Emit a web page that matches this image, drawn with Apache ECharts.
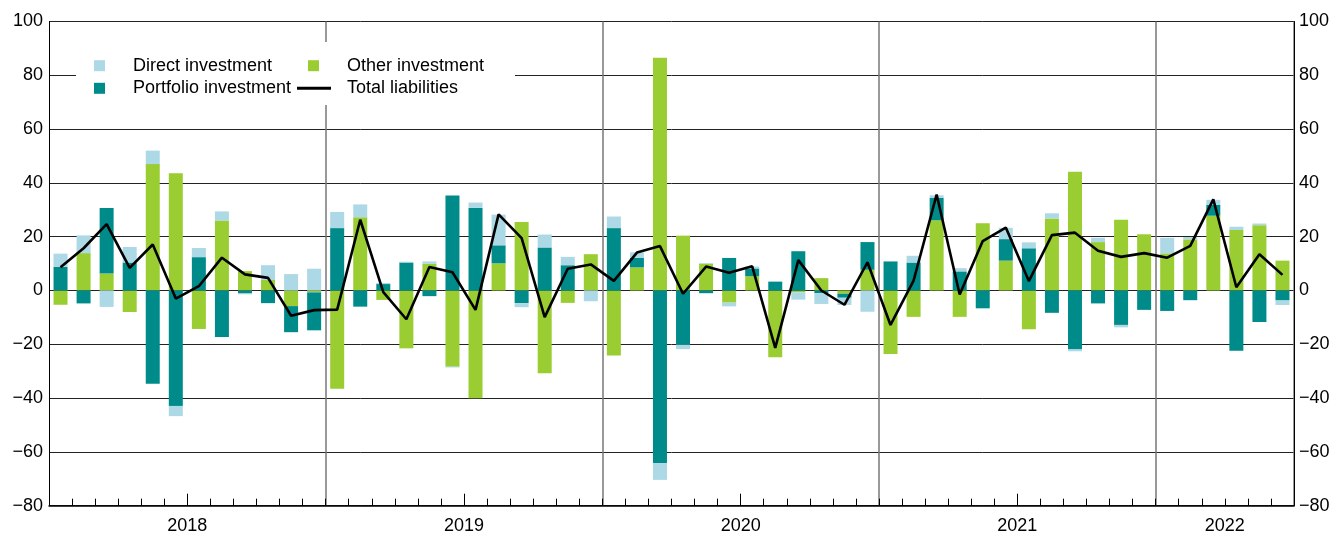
<!DOCTYPE html>
<html>
<head>
<meta charset="utf-8">
<script src="https://cdn.jsdelivr.net/npm/echarts@6/dist/echarts.min.js"></script>
<style>
  html, body { margin: 0; padding: 0; background: #fff; }
  #chart { width: 1336px; height: 536px; }
</style>
</head>
<body>
<div id="chart"></div>
<script>
// 月份 (2018-01 ~ 2022-06)
var years = ['2018', '2019', '2020', '2021', '2022'];
var monthsPerYear = [12, 12, 12, 12, 6];
var months = [];
years.forEach(function (y, i) {
    for (var m = 1; m <= monthsPerYear[i]; m++) {
        months.push(y + '-' + (m < 10 ? '0' + m : m));
    }
});

var directInv = [
    4.9, 6.6, -6.1, 5.8, 5.0, -3.8, 3.4, 3.4, -0.3, 5.5, 6.1, 8.1,
    6.0, 4.8, 0.4, 0.3, 0.9, -0.3, 2.0, 11.4, -1.5, 4.8, 3.1, -4.0,
    4.3, 2.1, -6.2, -1.6, 0.3, -1.4, 0.7, 0, -2.7, -4.0, -2.7, -7.9,
    0, 2.5, 1.0, 1.2, -0.4, 4.2, 2.2, 1.9, -0.7, 1.6, -0.9, 0,
    5.8, 0.9, 1.9, 1.2, 0.6, -1.7
];
var portfolioInv = [
    8.8, -4.8, 24.4, 10.4, -34.7, -42.9, 12.4, -17.3, -1.1, -4.7, -9.7, -14.1,
    23.2, -6.0, 2.4, 10.4, -2.1, 35.3, 30.7, 6.7, -4.7, 16.0, 9.4, 0,
    23.2, 3.5, -64.2, -20.2, -1.0, 12.1, 2.9, 3.3, 14.6, -1.0, -1.5, 10.3,
    10.8, 10.4, 8.3, 7.1, -6.5, 8.0, 15.7, -8.3, -21.9, -4.8, -12.8, -7.2,
    -7.6, -3.6, 4.0, -22.4, -11.7, -3.7
];
var otherInv = [
    -5.3, 13.9, 6.3, -8.0, 47.0, 43.6, -14.3, 26.0, 7.2, 3.9, -5.8, -0.7,
    -36.5, 27.2, -3.5, -21.5, 9.9, -28.3, -40.1, 10.1, 25.5, -30.8, -4.6, 13.5,
    -24.2, 8.6, 86.5, 20.4, 9.9, -4.5, 5.3, -24.8, -0.7, 4.6, -1.2, 7.7,
    -23.6, -9.8, 26.1, -9.8, 25.0, 11.1, -14.4, 26.8, 44.1, 18.0, 26.3, 20.9,
    13.8, 19.0, 27.8, 22.5, 24.3, 11.1
];
var totalLiab = [
    8.6, 15.7, 24.7, 8.4, 17.1, -3.0, 1.6, 12.2, 6.0, 4.7, -9.4, -7.3,
    -7.1, 26.3, -0.6, -10.7, 8.7, 6.8, -7.2, 28.3, 19.5, -9.9, 8.1, 9.7,
    3.6, 14.1, 16.5, -1.2, 8.9, 6.6, 9.0, -21.3, 11.3, 0.0, -5.3, 10.5,
    -12.8, 3.7, 35.7, -1.5, 18.4, 23.4, 3.5, 20.6, 21.5, 14.8, 12.5, 13.9,
    12.2, 16.6, 33.9, 1.2, 13.5, 5.8
];

// 年份标签放在每年的中间
var yearCenter = {};
var start = 0;
years.forEach(function (y, i) {
    yearCenter[start + monthsPerYear[i] / 2] = y;
    start += monthsPerYear[i];
});

var FONT = 'Liberation Sans, Arial, sans-serif';
var minus = function (v) { return String(v).replace('-', '\u2212'); };

(function () {
    var mycharts = echarts.init(document.getElementById('chart'));
    var legendText = { fontSize: 18, color: '#000', fontFamily: FONT };
    var option = {
        animation: false,
        color: ['#9ACD32', '#008B8B', '#ADD8E6', '#000'],
        grid: { left: 49, right: 42, top: 21.5, bottom: 30.3 },
        legend: [
            {
                data: ['Direct investment', 'Portfolio investment'],
                orient: 'vertical', left: 94, top: 56.7, padding: 0,
                itemWidth: 11, itemHeight: 11, itemGap: 4.6, icon: 'rect',
                textStyle: Object.assign({ padding: [0, 0, 0, 23] }, legendText)
            },
            {
                data: ['Other investment'],
                left: 308, top: 56.7, padding: 0,
                itemWidth: 11, itemHeight: 11, icon: 'rect',
                textStyle: Object.assign({ padding: [0, 0, 0, 23] }, legendText)
            },
            {
                data: ['Total liabilities'],
                left: 297, top: 79.3, padding: 0,
                itemWidth: 34, itemHeight: 3, icon: 'rect',
                textStyle: Object.assign({ padding: [0, 0, 0, 11] }, legendText)
            }
        ],
        // 图例后面的白底
        graphic: [{
            type: 'rect', left: 76, top: 42, z: 3,
            shape: { width: 439, height: 63 },
            style: { fill: '#fff' }
        }],
        xAxis: [
            {
                // 月份刻度 + 年份分隔线
                type: 'category', data: months, position: 'bottom',
                axisLine: { show: true, onZero: false, lineStyle: { color: '#000', width: 1.5 } },
                axisTick: { show: true, inside: true, length: 7, interval: 0, lineStyle: { color: '#000', width: 1 } },
                axisLabel: { show: false },
                splitLine: {
                    show: true,
                    interval: function (i) { return i > 0 && i % 12 === 0; },
                    lineStyle: { color: '#777', width: 1.5 }
                }
            },
            {
                // 年中的长刻度
                type: 'category', data: months, position: 'bottom',
                axisLine: { show: false, onZero: false },
                axisTick: {
                    show: true, inside: true, length: 12,
                    interval: function (i) { return i % 12 === 6; },
                    lineStyle: { color: '#000', width: 1 }
                },
                axisLabel: { show: false },
                splitLine: { show: false }
            },
            {
                // 年份标签
                type: 'value', position: 'bottom', min: 0, max: months.length, interval: 3,
                axisLine: { show: false, onZero: false }, axisTick: { show: false }, splitLine: { show: false },
                axisLabel: {
                    margin: 11, fontSize: 18, color: '#000', fontFamily: FONT,
                    showMinLabel: true, showMaxLabel: true,
                    formatter: function (v) { return yearCenter[v] || ''; }
                }
            }
        ],
        yAxis: [
            {
                type: 'value', position: 'left', min: -80, max: 100, interval: 20,
                axisLine: { show: true, lineStyle: { color: '#000' } },
                axisTick: { show: false },
                axisLabel: { margin: 6, fontSize: 18, color: '#000', fontFamily: FONT, formatter: minus },
                splitLine: { show: true, lineStyle: { color: '#222', width: 1 } }
            },
            {
                type: 'value', position: 'right', min: -80, max: 100, interval: 20,
                axisLine: { show: true, lineStyle: { color: '#000' } },
                axisTick: { show: false },
                axisLabel: { margin: 5, fontSize: 18, color: '#000', fontFamily: FONT, formatter: minus },
                splitLine: { show: false }
            }
        ],
        series: [
            { name: 'Other investment', type: 'bar', stack: 'inv', barWidth: 14, data: otherInv },
            { name: 'Portfolio investment', type: 'bar', stack: 'inv', barWidth: 14, data: portfolioInv },
            { name: 'Direct investment', type: 'bar', stack: 'inv', barWidth: 14, data: directInv },
            {
                name: 'Total liabilities', type: 'line', data: totalLiab,
                symbol: 'none', z: 5,
                lineStyle: { color: '#000', width: 2.6 },
                itemStyle: { color: '#000' }
            }
        ]
    };
    mycharts.setOption(option);
})();
</script>
</body>
</html>
